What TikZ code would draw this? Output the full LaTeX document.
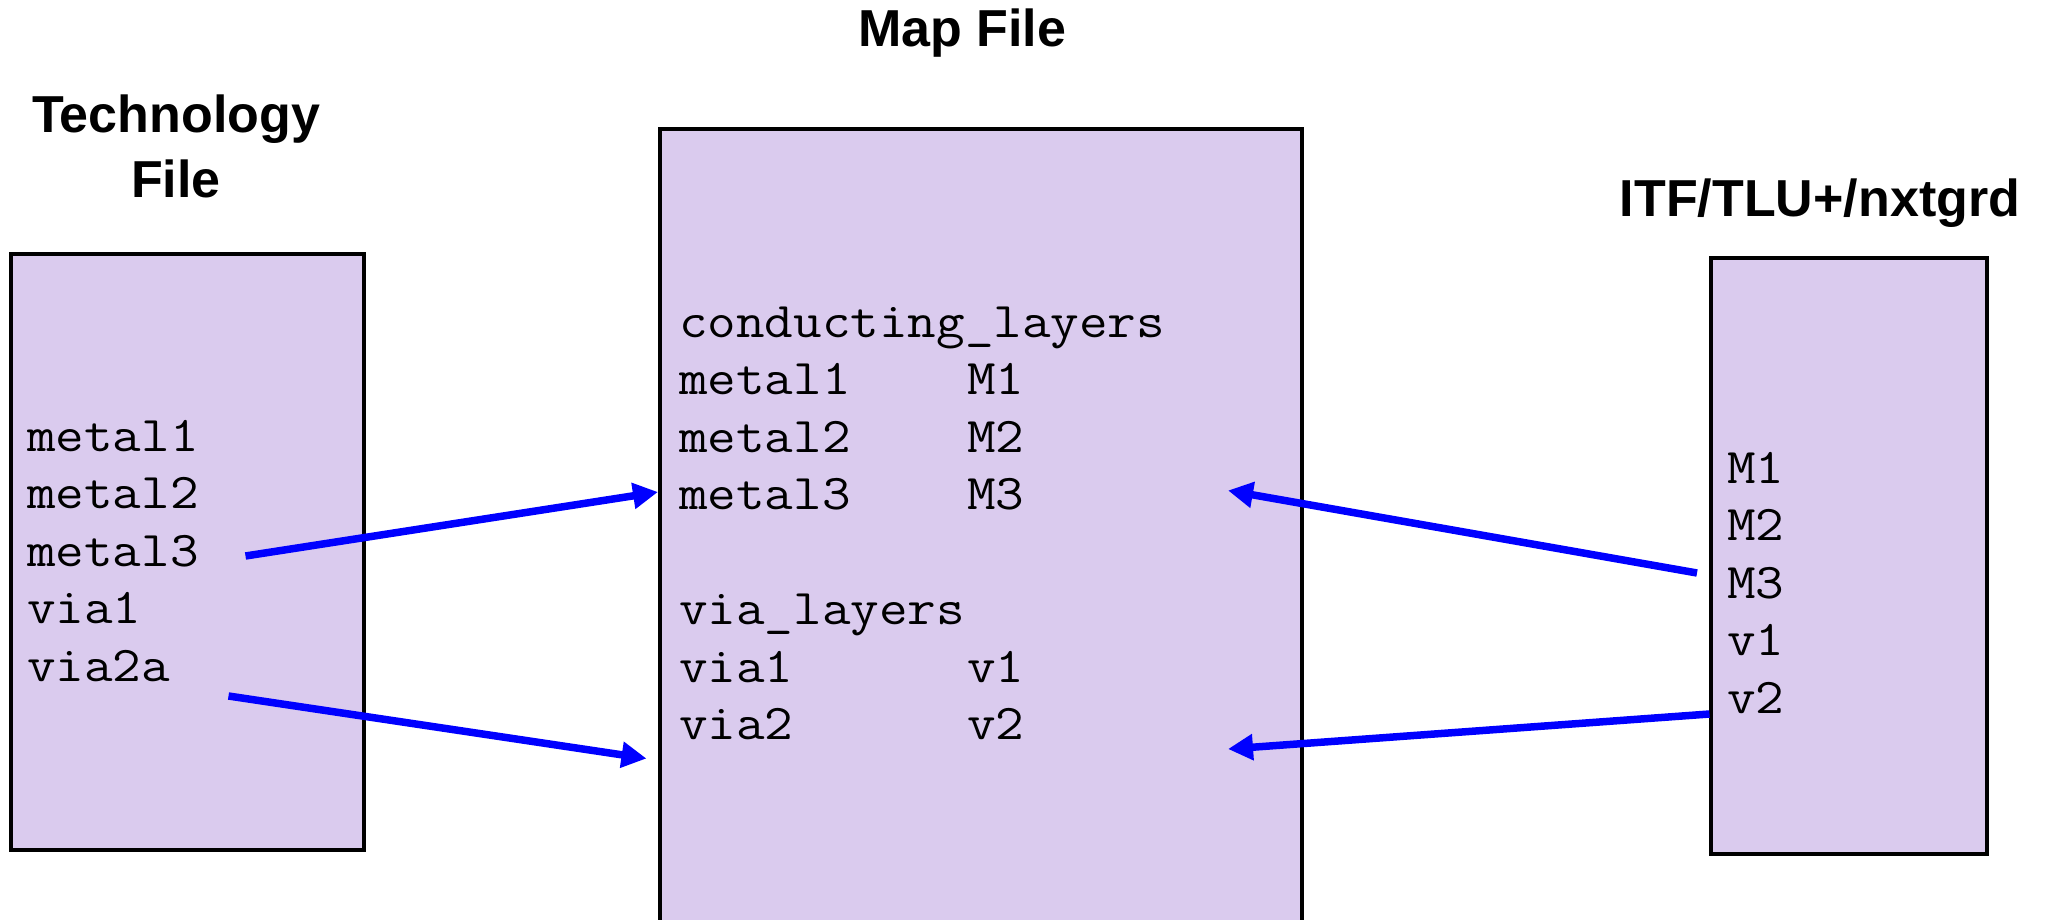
\documentclass[tikz,border=0pt]{standalone}
\usepackage{fontspec}
\setmainfont{Liberation Sans}
\newfontfamily\courierlike[FakeStretch=1.11]{Latin Modern Mono}
\usetikzlibrary{arrows.meta}
\definecolor{boxfill}{RGB}{218,203,238}
\definecolor{linkblue}{RGB}{0,0,255}
\tikzset{
  title/.style={font=\fontsize{52}{60}\selectfont\bfseries, inner sep=0pt, anchor=base},
  mono/.style={font=\fontsize{50}{57}\selectfont\courierlike, inner sep=0pt, anchor=base west},
  filebox/.style={draw=black, line width=3.5pt, fill=boxfill, inner sep=0pt, rectangle},
  link/.style={draw=linkblue, line width=7.5pt, -{Triangle[length=25pt,width=25pt]}}
}
\begin{document}
\begin{tikzpicture}[x=1pt,y=-1pt]
\useasboundingbox (0,0) rectangle (2049,920);
\clip (0,0) rectangle (2049,920);
\fill[white] (0,0) rectangle (2049,920);

% boxes
\node[filebox, minimum width=353pt, minimum height=596pt] (tech) at (187.5,552) {};
\node[filebox, minimum width=642pt, minimum height=831pt] (map) at (981,544.5) {};
\node[filebox, minimum width=276pt, minimum height=596pt] (itf) at (1849,556) {};

% titles
\node[title] (techt1) at (176,133) {Technology};
\node[title] (techt2) at (176,197) {File};
\node[title] (mapt) at (962,47) {Map File};
\node[title] (itft) at (1820,216) {ITF/TLU+/nxtgrd};

% technology file lines
\node[mono] (tm1) at (27,451) {metal1};
\node[mono] (tm2) at (27,508.5) {metal2};
\node[mono] (tm3) at (27,566) {metal3};
\node[mono] (tv1) at (27,623.5) {via1};
\node[mono] (tv2) at (27,681) {via2a};

% map file lines
\node[mono] (mc) at (679,337) {conducting\_layers};
\node[mono] (mm1) at (679,394.5) {metal1};
\node[mono] (mm1b) at (967,394.5) {M1};
\node[mono] (mm2) at (679,452) {metal2};
\node[mono] (mm2b) at (967,452) {M2};
\node[mono] (mm3) at (679,509.5) {metal3};
\node[mono] (mm3b) at (967,509.5) {M3};
\node[mono] (mv) at (679,624.5) {via\_layers};
\node[mono] (mv1) at (679,682) {via1};
\node[mono] (mv1b) at (967,682) {v1};
\node[mono] (mv2) at (679,739.5) {via2};
\node[mono] (mv2b) at (967,739.5) {v2};

% ITF lines
\node[mono] (im1) at (1727,483) {M1};
\node[mono] (im2) at (1727,540.5) {M2};
\node[mono] (im3) at (1727,598) {M3};
\node[mono] (iv1) at (1727,655.5) {v1};
\node[mono] (iv2) at (1727,713) {v2};

% connector end points
\coordinate (techm3out) at (245.5,556);
\coordinate (mapm3in) at (658,492);
\coordinate (techv2out) at (228.5,696);
\coordinate (mapv2in) at (646.5,758.5);
\coordinate (itfm3out) at (1697,573);
\coordinate (mapm3r) at (1228,490.5);
\coordinate (itfv2out) at (1709.5,714);
\coordinate (mapv2r) at (1228,749);

% connectors
\draw[link] (techm3out) -- (mapm3in);
\draw[link] (techv2out) -- (mapv2in);
\draw[link] (itfm3out) -- (mapm3r);
\draw[link] (itfv2out) -- (mapv2r);
\end{tikzpicture}
\end{document}
